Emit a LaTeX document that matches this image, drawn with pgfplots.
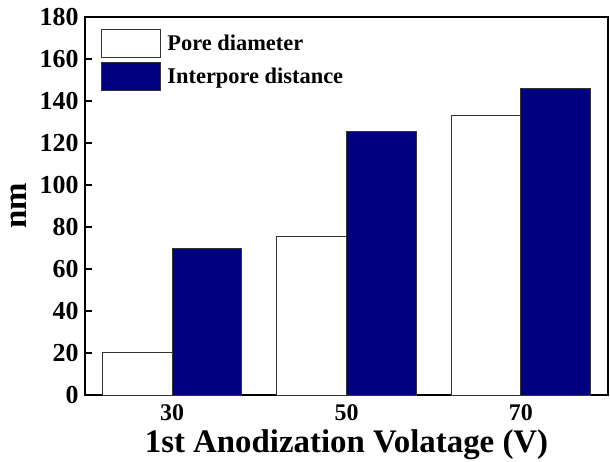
\documentclass[border=0pt]{standalone}
\usepackage{pgfplots}
\pgfplotsset{compat=1.18}
\usepackage{fontspec}
\setmainfont{Liberation Serif}
\definecolor{navyb}{RGB}{0,0,128}
\begin{document}
\begin{tikzpicture}
\begin{axis}[
  scale only axis, width=523bp, height=378bp,
  xmin=-0.5, xmax=2.5, ymin=0, ymax=180,
  ytick={0,20,...,180},
  xtick={0,1,2}, xticklabels={30,50,70},
  major x tick style={draw=none},
  ytick pos=left, tick align=inside, major tick length=7bp,
  tick style={line width=1.2bp, black},
  axis line style={line width=1.5bp},
  yticklabel style={font=\bfseries\fontsize{26}{28}\selectfont, xshift=-3bp},
  xticklabel style={font=\bfseries\fontsize{24}{28}\selectfont, inner sep=1bp, yshift=-8bp},
  /pgf/number format/assume math mode=true,
  xlabel={1st Anodization Volatage (V)}, ylabel={nm},
  label style={font=\bfseries\fontsize{33}{36}\selectfont},
  xlabel style={inner sep=1bp, yshift=-7bp},
  ylabel style={yshift=6bp},
  legend style={at={(rel axis cs:0.031,0.968)}, anchor=north west, draw=none, fill=none,
    font=\bfseries\fontsize{22.5}{25}\selectfont, row sep=4bp, inner sep=0pt,
    /tikz/every odd column/.append style={column sep=4bp}},
  legend cell align=left,
  clip=false,
]
\coordinate (bl) at (rel axis cs:0,0);
\coordinate (tr) at (rel axis cs:1,1);
\addplot[ybar, bar width=0.4, bar shift=-0.2, fill=white, draw=black!80, line width=1bp,
  legend image code/.code={\draw[fill=white, draw=black!80, line width=1bp] (0bp,-14bp) rectangle (59bp,14bp);}]
  coordinates {(0,20) (1,75.7) (2,133.3)};
\addlegendentry{Pore diameter}
\addplot[ybar, bar width=0.4, bar shift=0.2, fill=navyb, draw=black!80, line width=1bp,
  legend image code/.code={\draw[fill=navyb, draw=black!80, line width=1bp] (0bp,-14bp) rectangle (59bp,14bp);}]
  coordinates {(0,69.6) (1,125.3) (2,146)};
\addlegendentry{Interpore distance}
\end{axis}
\pgfresetboundingbox
\path (bl) ++(-85bp,-67bp) coordinate (p1);
\path (tr) ++(2bp,17bp) coordinate (p2);
\path[use as bounding box] (p1) rectangle (p2);
\end{tikzpicture}
\end{document}
